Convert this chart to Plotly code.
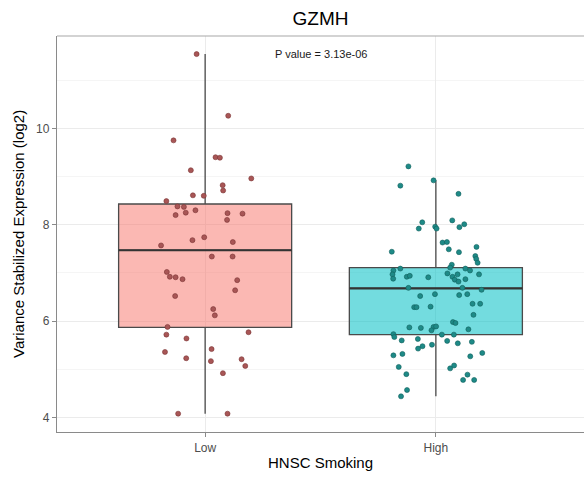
import plotly.graph_objects as go

# Groups on the x axis
categories = ["Low", "High"]

# Box summary statistics per group (log2 variance-stabilized expression)
lower_whisker = [4.08, 4.44]
q1_values = [5.87, 5.72]
median_values = [7.47, 6.68]
q3_values = [8.43, 7.11]
upper_whisker = [11.54, 8.92]

# Individual samples, Low smoking group
low_values = [11.54, 10.26, 9.75, 9.40, 9.39, 9.13, 8.96, 8.82, 8.71, 8.61,
              8.60, 8.49, 8.38, 8.37, 8.30, 8.25, 8.20, 8.24, 8.23, 8.10,
              7.74, 7.68, 7.57, 7.64, 7.34, 7.34, 7.02, 6.92, 6.91, 6.87,
              6.85, 6.64, 6.52, 6.25, 6.12, 5.88, 5.72, 5.64, 5.77, 5.42,
              5.36, 5.23, 5.17, 5.21, 5.07, 4.92, 4.08, 4.08]
low_jitter = [-0.037, 0.100, -0.137, 0.045, 0.064, -0.062, 0.200, 0.076, 0.078, -0.053,
              -0.006, -0.168, -0.120, -0.092, -0.042, -0.084, -0.128, 0.097, 0.162, 0.095,
              -0.004, -0.055, -0.191, 0.120, 0.029, 0.119, -0.166, -0.153, -0.128, -0.098,
              0.139, 0.130, -0.130, 0.035, 0.042, -0.163, -0.168, -0.081, 0.188, 0.028,
              -0.174, -0.082, 0.025, 0.158, 0.174, 0.077, -0.117, 0.097]

# Individual samples, High smoking group
high_values = [9.21, 8.81, 8.92, 8.64, 8.05, 7.92, 7.96, 7.92, 8.09, 8.01,
               7.95, 7.63, 7.64, 7.49, 7.43, 7.54, 7.44, 7.35, 7.29, 7.21,
               7.17, 7.05, 7.09, 6.97, 6.88, 6.92, 6.94, 6.91, 7.11, 6.99,
               7.09, 7.05, 6.92, 6.97, 6.86, 6.82, 6.87, 6.97, 6.69, 6.69,
               6.65, 6.52, 6.56, 6.54, 6.56, 6.29, 6.29, 6.30, 6.36, 6.36,
               6.13, 5.98, 5.96, 5.87, 5.86, 5.88, 5.89, 5.81, 5.83, 5.73,
               5.67, 5.72, 5.72, 5.60, 5.63, 5.59, 5.54, 5.57, 5.43, 5.48,
               5.51, 5.29, 5.32, 5.27, 5.34, 5.05, 5.02, 5.08, 4.90, 4.89,
               4.78, 4.78, 4.57, 4.44]
high_jitter = [-0.119, -0.154, -0.010, 0.098, -0.059, -0.074, -0.003, 0.003, 0.071, 0.123,
               0.102, 0.029, 0.048, 0.056, 0.100, 0.176, -0.191, 0.171, 0.175, 0.181,
               0.069, -0.184, -0.154, -0.188, -0.185, -0.126, -0.113, -0.033, 0.062, 0.050,
               0.128, 0.148, 0.072, 0.094, 0.082, 0.098, 0.128, 0.187, -0.119, 0.115,
               0.198, -0.068, -0.004, 0.101, 0.136, -0.094, -0.084, -0.023, 0.159, 0.192,
               0.163, 0.074, 0.085, -0.115, -0.065, -0.010, 0.001, -0.019, 0.141, -0.184,
               -0.180, 0.026, 0.078, -0.148, -0.078, 0.049, 0.095, 0.156, -0.077, -0.058,
               -0.017, -0.184, -0.145, 0.149, 0.201, -0.161, 0.062, 0.079, -0.128, 0.137,
               0.118, 0.166, -0.125, -0.151]

p_value_text = "P value = 3.13e-06"

box_fills = ["rgba(248,118,109,0.52)", "rgba(0,191,196,0.55)"]
point_colors = ["#A85656", "#1E8A87"]
point_edges = ["#7A3434", "#11605D"]
box_width = 0.75

fig = go.Figure()

positions = [i + 1 for i in range(len(categories))]

for i, cat in enumerate(categories):
    fig.add_trace(go.Box(
        x=[positions[i]],
        q1=[q1_values[i]],
        median=[median_values[i]],
        q3=[q3_values[i]],
        lowerfence=[lower_whisker[i]],
        upperfence=[upper_whisker[i]],
        width=box_width,
        whiskerwidth=0,
        fillcolor=box_fills[i],
        line=dict(color="#4A4A4A", width=1.3),
        boxpoints=False,
        name=cat,
        showlegend=False,
        hoverinfo="skip",
    ))
    # heavier median bar across the box
    fig.add_trace(go.Scatter(
        x=[positions[i] - box_width / 2, positions[i] + box_width / 2],
        y=[median_values[i], median_values[i]],
        mode="lines",
        line=dict(color="#333333", width=2.2),
        showlegend=False,
        hoverinfo="skip",
    ))

groups = [(low_values, low_jitter), (high_values, high_jitter)]
for i, (vals, jit) in enumerate(groups):
    fig.add_trace(go.Scatter(
        x=[positions[i] + j for j in jit],
        y=vals,
        mode="markers",
        marker=dict(size=5, color=point_colors[i],
                    line=dict(color=point_edges[i], width=0.6)),
        showlegend=False,
        hoverinfo="skip",
    ))

fig.add_annotation(
    x=1.5, y=11.55, xref="x", yref="y",
    text=p_value_text, showarrow=False,
    font=dict(family="Liberation Sans", size=11, color="#1a1a1a"),
    xanchor="center", yanchor="middle",
)

# Axis titles
fig.add_annotation(
    x=0.5, y=-0.076, xref="paper", yref="paper",
    text="HNSC Smoking", showarrow=False,
    font=dict(family="Liberation Sans", size=15, color="#000000"),
    xanchor="center", yanchor="middle",
)
fig.add_annotation(
    x=-0.074, y=0.5, xref="paper", yref="paper",
    text="Variance Stabilized Expression (log2)", showarrow=False,
    textangle=-90,
    font=dict(family="Liberation Sans", size=15, color="#000000"),
    xanchor="center", yanchor="middle",
)

# Top panel border
fig.add_shape(type="line", xref="paper", yref="paper",
              x0=0, x1=1, y0=1, y1=1,
              line=dict(color="#A8A8A8", width=1.2))

fig.update_layout(
    width=584, height=478,
    margin=dict(l=57, r=0, t=36, b=46),
    paper_bgcolor="white",
    plot_bgcolor="white",
    font=dict(family="Liberation Sans", color="#4D4D4D"),
    title=dict(text="GZMH", x=0.5, xref="paper", y=0.961, yref="container",
               xanchor="center", yanchor="middle",
               font=dict(family="Liberation Sans", size=19, color="#000000")),
    xaxis=dict(
        range=[0.358, 2.642],
        tickvals=positions, ticktext=categories,
        showgrid=True, gridcolor="#EBEBEB", gridwidth=1,
        zeroline=False,
        showline=True, linecolor="#8A8A8A", linewidth=1.4,
        ticks="outside", ticklen=4, tickcolor="#8A8A8A", tickwidth=1,
        tickfont=dict(size=12, color="#4D4D4D"),
    ),
    yaxis=dict(
        range=[3.70, 11.915],
        tick0=4, dtick=2,
        showgrid=True, gridcolor="#EBEBEB", gridwidth=1,
        minor=dict(tick0=5, dtick=2, showgrid=True, gridcolor="#F5F5F5", gridwidth=1),
        zeroline=False,
        showline=True, linecolor="#8A8A8A", linewidth=1.4,
        ticks="outside", ticklen=4, tickcolor="#8A8A8A", tickwidth=1,
        tickfont=dict(size=12, color="#4D4D4D"),
    ),
)

fig.write_html("out.html")
